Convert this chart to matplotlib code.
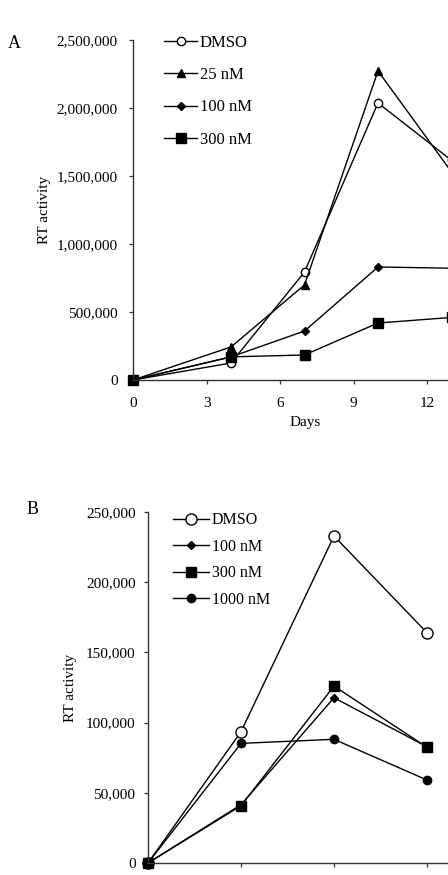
import matplotlib
matplotlib.use('Agg')
import matplotlib.pyplot as plt
from matplotlib.ticker import StrMethodFormatter

plt.rcParams['font.family'] = ['Liberation Serif', 'DejaVu Serif']
plt.rcParams['font.size'] = 11

# panel A data
days_a = [0, 4, 7, 10, 13]
dmso_a = [0, 125000, 794000, 2037000, 1615000]
nm25_a = [0, 243000, 699000, 2272000, 1530000]
nm100_a = [0, 170000, 360000, 831000, 822000]
nm300_a = [0, 170000, 184000, 419000, 460000]
yticks_a = [0, 500000, 1000000, 1500000, 2000000, 2500000]
xticks_a = [0, 3, 6, 9, 12]

# panel B data (day labels are cut off in the figure)
days_b = [0, 3, 6, 9]
dmso_b = [0, 93500, 232900, 164000]
nm100_b = [0, 41500, 117700, 82800]
nm300_b = [0, 40800, 126000, 82400]
nm1000_b = [0, 85200, 88100, 59100]
yticks_b = [0, 50000, 100000, 150000, 200000, 250000]
xticks_b = [0, 3, 6, 9, 12]

fig = plt.figure(figsize=(4.48, 8.75), dpi=100)


def style_axis(ax):
    ax.spines['top'].set_visible(False)
    ax.spines['right'].set_visible(False)
    for s in ['left', 'bottom']:
        ax.spines[s].set_linewidth(1.0)
        ax.spines[s].set_color('#333333')
    ax.tick_params(direction='out', length=3, width=0.9, color='#333333')
    ax.yaxis.set_major_formatter(StrMethodFormatter('{x:,.0f}'))


# ---- panel A ----
ax1 = fig.add_axes([133/448, 1-380/875, 367.5/448, 340/875])
style_axis(ax1)
kw = dict(color='black', lw=1.0, clip_on=False)
ax1.plot(days_a, dmso_a, marker='o', ms=6, mfc='white', mec='black', label='DMSO', **kw)
ax1.plot(days_a, nm25_a, marker='^', ms=6, mfc='black', label='25 nM', **kw)
ax1.plot(days_a, nm100_a, marker='D', ms=4, mfc='black', label='100 nM', **kw)
ax1.plot(days_a, nm300_a, marker='s', ms=6.5, mfc='black', label='300 nM', **kw)
ax1.set_xlim(0, 15)
ax1.set_ylim(0, 2500000)
ax1.set_xticks(xticks_a)
ax1.set_yticks(yticks_a)
ax1.tick_params(axis='y', pad=8)
ax1.tick_params(axis='x', pad=9)
ax1.set_ylabel('RT activity')
ax1.yaxis.set_label_coords(-0.222, 0.5)
ax1.set_xlabel('Days')
ax1.xaxis.set_label_coords(0.468, -0.105)
ax1.legend(loc='upper left', bbox_to_anchor=(0.062, 1.04), frameon=False, fontsize=12,
           handlelength=2.0, handletextpad=0.15, labelspacing=0.98, borderpad=0)
fig.text(14/448, 1-43/875, 'A', fontsize=13, ha='center', va='center')

# ---- panel B ----
ax2 = fig.add_axes([148/448, 1-863/875, 372/448, 351/875])
style_axis(ax2)
ax2.plot(days_b, dmso_b, marker='o', ms=8, mfc='white', mec='black', label='DMSO', **kw)
ax2.plot(days_b, nm100_b, marker='D', ms=4.5, mfc='black', label='100 nM', **kw)
ax2.plot(days_b, nm300_b, marker='s', ms=7, mfc='black', label='300 nM', **kw)
ax2.plot(days_b, nm1000_b, marker='o', ms=6, mfc='black', label='1000 nM', **kw)
ax2.set_xlim(0, 12)
ax2.set_ylim(0, 250000)
ax2.set_xticks(xticks_b)
ax2.tick_params(axis='x', labelbottom=False)
ax2.set_yticks(yticks_b)
ax2.tick_params(axis='y', pad=6)
ax2.set_ylabel('RT activity')
ax2.yaxis.set_label_coords(-0.19, 0.5)
ax2.legend(loc='upper left', bbox_to_anchor=(0.045, 1.022), frameon=False, fontsize=11.5,
           handlelength=2.3, handletextpad=0.15, labelspacing=0.66, borderpad=0)
fig.text(33/448, 1-510/875, 'B', fontsize=13, ha='center', va='center')

plt.savefig('out.png', dpi=100)
plt.close()
